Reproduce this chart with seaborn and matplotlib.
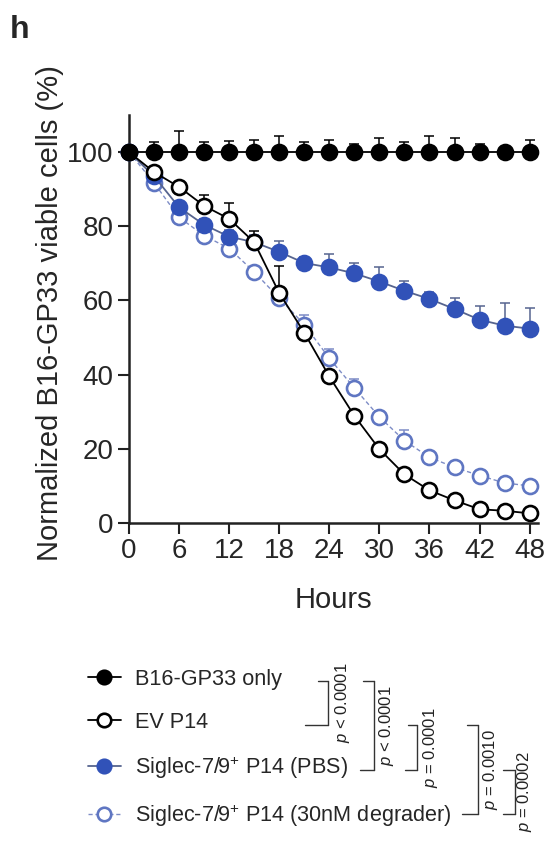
import numpy as np
import pandas as pd
import seaborn as sns
import matplotlib.pyplot as plt
from matplotlib.lines import Line2D

sns.set_theme(style="ticks")
plt.rcParams['font.family'] = ['Liberation Sans', 'DejaVu Sans']
plt.rcParams['mathtext.fontset'] = 'custom'
plt.rcParams['mathtext.rm'] = 'Liberation Sans'
plt.rcParams['mathtext.it'] = 'Liberation Sans:italic'

# data (mean, upper SEM)
hours = [0, 3, 6, 9, 12, 15, 18, 21, 24, 27, 30, 33, 36, 39, 42, 45, 48]
b16_only = [100, 100, 100, 100, 100, 100, 100, 100, 100, 100, 100, 100, 100, 100, 100, 100, 100]
b16_err = [0, 2.7, 5.7, 2.7, 3.0, 3.3, 4.4, 2.7, 3.3, 2.1, 3.7, 2.7, 4.4, 3.7, 2.1, 0.5, 3.3]
ev_p14 = [100, 94.6, 90.6, 85.5, 82.0, 75.7, 62.0, 51.3, 39.5, 28.9, 19.9, 13.1, 8.8, 6.1, 3.7, 3.3, 2.6]
ev_err = [0, 0.8, 1.0, 2.8, 4.4, 2.9, 7.4, 1.0, 0.8, 0.5, 0.5, 0.5, 0.5, 0.5, 0.5, 0.5, 0.5]
pbs = [100, 93.5, 85.1, 80.4, 77.2, 75.7, 73.1, 70.1, 68.9, 67.3, 65.1, 62.6, 60.4, 57.7, 54.8, 53.2, 52.4]
pbs_err = [0, 1.0, 1.5, 1.5, 1.8, 2.0, 2.8, 1.5, 3.5, 2.9, 4.0, 2.7, 2.0, 2.9, 3.6, 6.2, 5.5]
degrader = [100, 91.7, 82.4, 77.5, 74.0, 67.7, 60.6, 53.5, 44.4, 36.4, 28.6, 22.2, 17.7, 15.0, 12.8, 10.8, 10.0]
degrader_err = [0, 0.8, 1.0, 1.0, 1.0, 1.0, 1.5, 2.7, 2.5, 2.5, 1.5, 3.0, 1.0, 1.0, 0.8, 0.8, 0.8]

labels = ["B16-GP33 only", "EV P14", "Siglec-7/9$^{+}$ P14 (PBS)",
          "Siglec-7/9$^{+}$ P14 (30nM degrader)"]
p_values = ["$p$ < 0.0001", "$p$ < 0.0001", "$p$ = 0.0001", "$p$ = 0.0010", "$p$ = 0.0002"]

W, H = 558, 849
fig = plt.figure(figsize=(W / 100, H / 100), dpi=100)
ax = fig.add_axes([129 / W, 1 - 523 / H, 409 / W, 408 / H])

# (values, errors, line colour, marker face, marker edge, linestyle, zorder)
series = [
    (degrader, degrader_err, "#7d8cc6", "white", "#5f76c2", (0, (3, 2)), 3),
    (pbs, pbs_err, "#56648f", "#3152b8", "#3152b8", "-", 4),
    (ev_p14, ev_err, "black", "white", "black", "-", 5),
    (b16_only, b16_err, "black", "black", "black", "-", 6),
]
order = [3, 2, 1, 0]

for (vals, err, lc, mfc, mec, ls, z), li in zip(series, order):
    df = pd.DataFrame({"Hours": hours, "value": vals})
    ax.errorbar(hours, vals, yerr=[np.zeros(len(err)), err], fmt="none",
                ecolor=lc, elinewidth=1.1, capsize=3.6, capthick=1.1,
                zorder=z - 0.5, clip_on=False)
    sns.lineplot(data=df, x="Hours", y="value", ax=ax, color=lc,
                 linestyle=ls, linewidth=1.3 if li != 3 else 1.0,
                 marker="o", markersize=10.8, markerfacecolor=mfc,
                 markeredgecolor=mec, markeredgewidth=1.9,
                 label=labels[li], zorder=z, clip_on=False)

ax.set_xlim(0, 49)
ax.set_ylim(0, 110)
ax.set_xticks(range(0, 49, 6))
ax.set_yticks(range(0, 101, 20))
ax.tick_params(labelsize=20, length=8, width=1.5, pad=3, color="#222222")
for s in ["left", "bottom"]:
    ax.spines[s].set_linewidth(1.8)
    ax.spines[s].set_color("#222222")
sns.despine(ax=ax)
ax.set_xlabel("Hours", fontsize=21)
ax.set_ylabel("Normalized B16-GP33 viable cells (%)", fontsize=21)
ax.xaxis.set_label_coords(0.5, -0.155)
ax.yaxis.set_label_coords(-0.158, 0.515)

# legend
handles, lbls = ax.get_legend_handles_labels()
by_label = dict(zip(lbls, handles))
ax.legend([by_label[l] for l in labels], labels, loc="center left",
          bbox_to_anchor=(88 / W, 1 - 749 / H), bbox_transform=fig.transFigure,
          frameon=False, fontsize=15.6, handlelength=1.5, handletextpad=0.65,
          labelspacing=1.0, borderpad=0, borderaxespad=0, markerscale=0.9)

fig.text(10 / W, 1 - 38 / H, "h", fontsize=23, fontweight="bold")

# significance brackets
rows = [681, 725, 770, 814]
brackets = [(0, 1, 318, 328, 305, 343), (0, 2, 363, 374, 360, 386),
            (1, 2, 408, 417, 405, 431), (1, 3, 467, 478, 462, 490),
            (2, 3, 503, 515, 503, 525)]


def px(x, y):
    return x / W, 1 - y / H


for (r0, r1, xt, xv, xb, xtxt), pv in zip(brackets, p_values):
    y0, y1 = rows[r0], rows[r1]
    for (xa, ya), (xb_, yb) in [((xt, y0), (xv, y0)), ((xv, y0), (xv, y1)), ((xb, y1), (xv, y1))]:
        a, b = px(xa, ya), px(xb_, yb)
        fig.add_artist(Line2D([a[0], b[0]], [a[1], b[1]], color="#333333", lw=1.0))
    tx, ty = px(xtxt, (y0 + y1) / 2)
    fig.text(tx, ty, pv, rotation=90, ha="center", va="center", fontsize=12, color="#222222")

fig.savefig("out.png", dpi=100)
